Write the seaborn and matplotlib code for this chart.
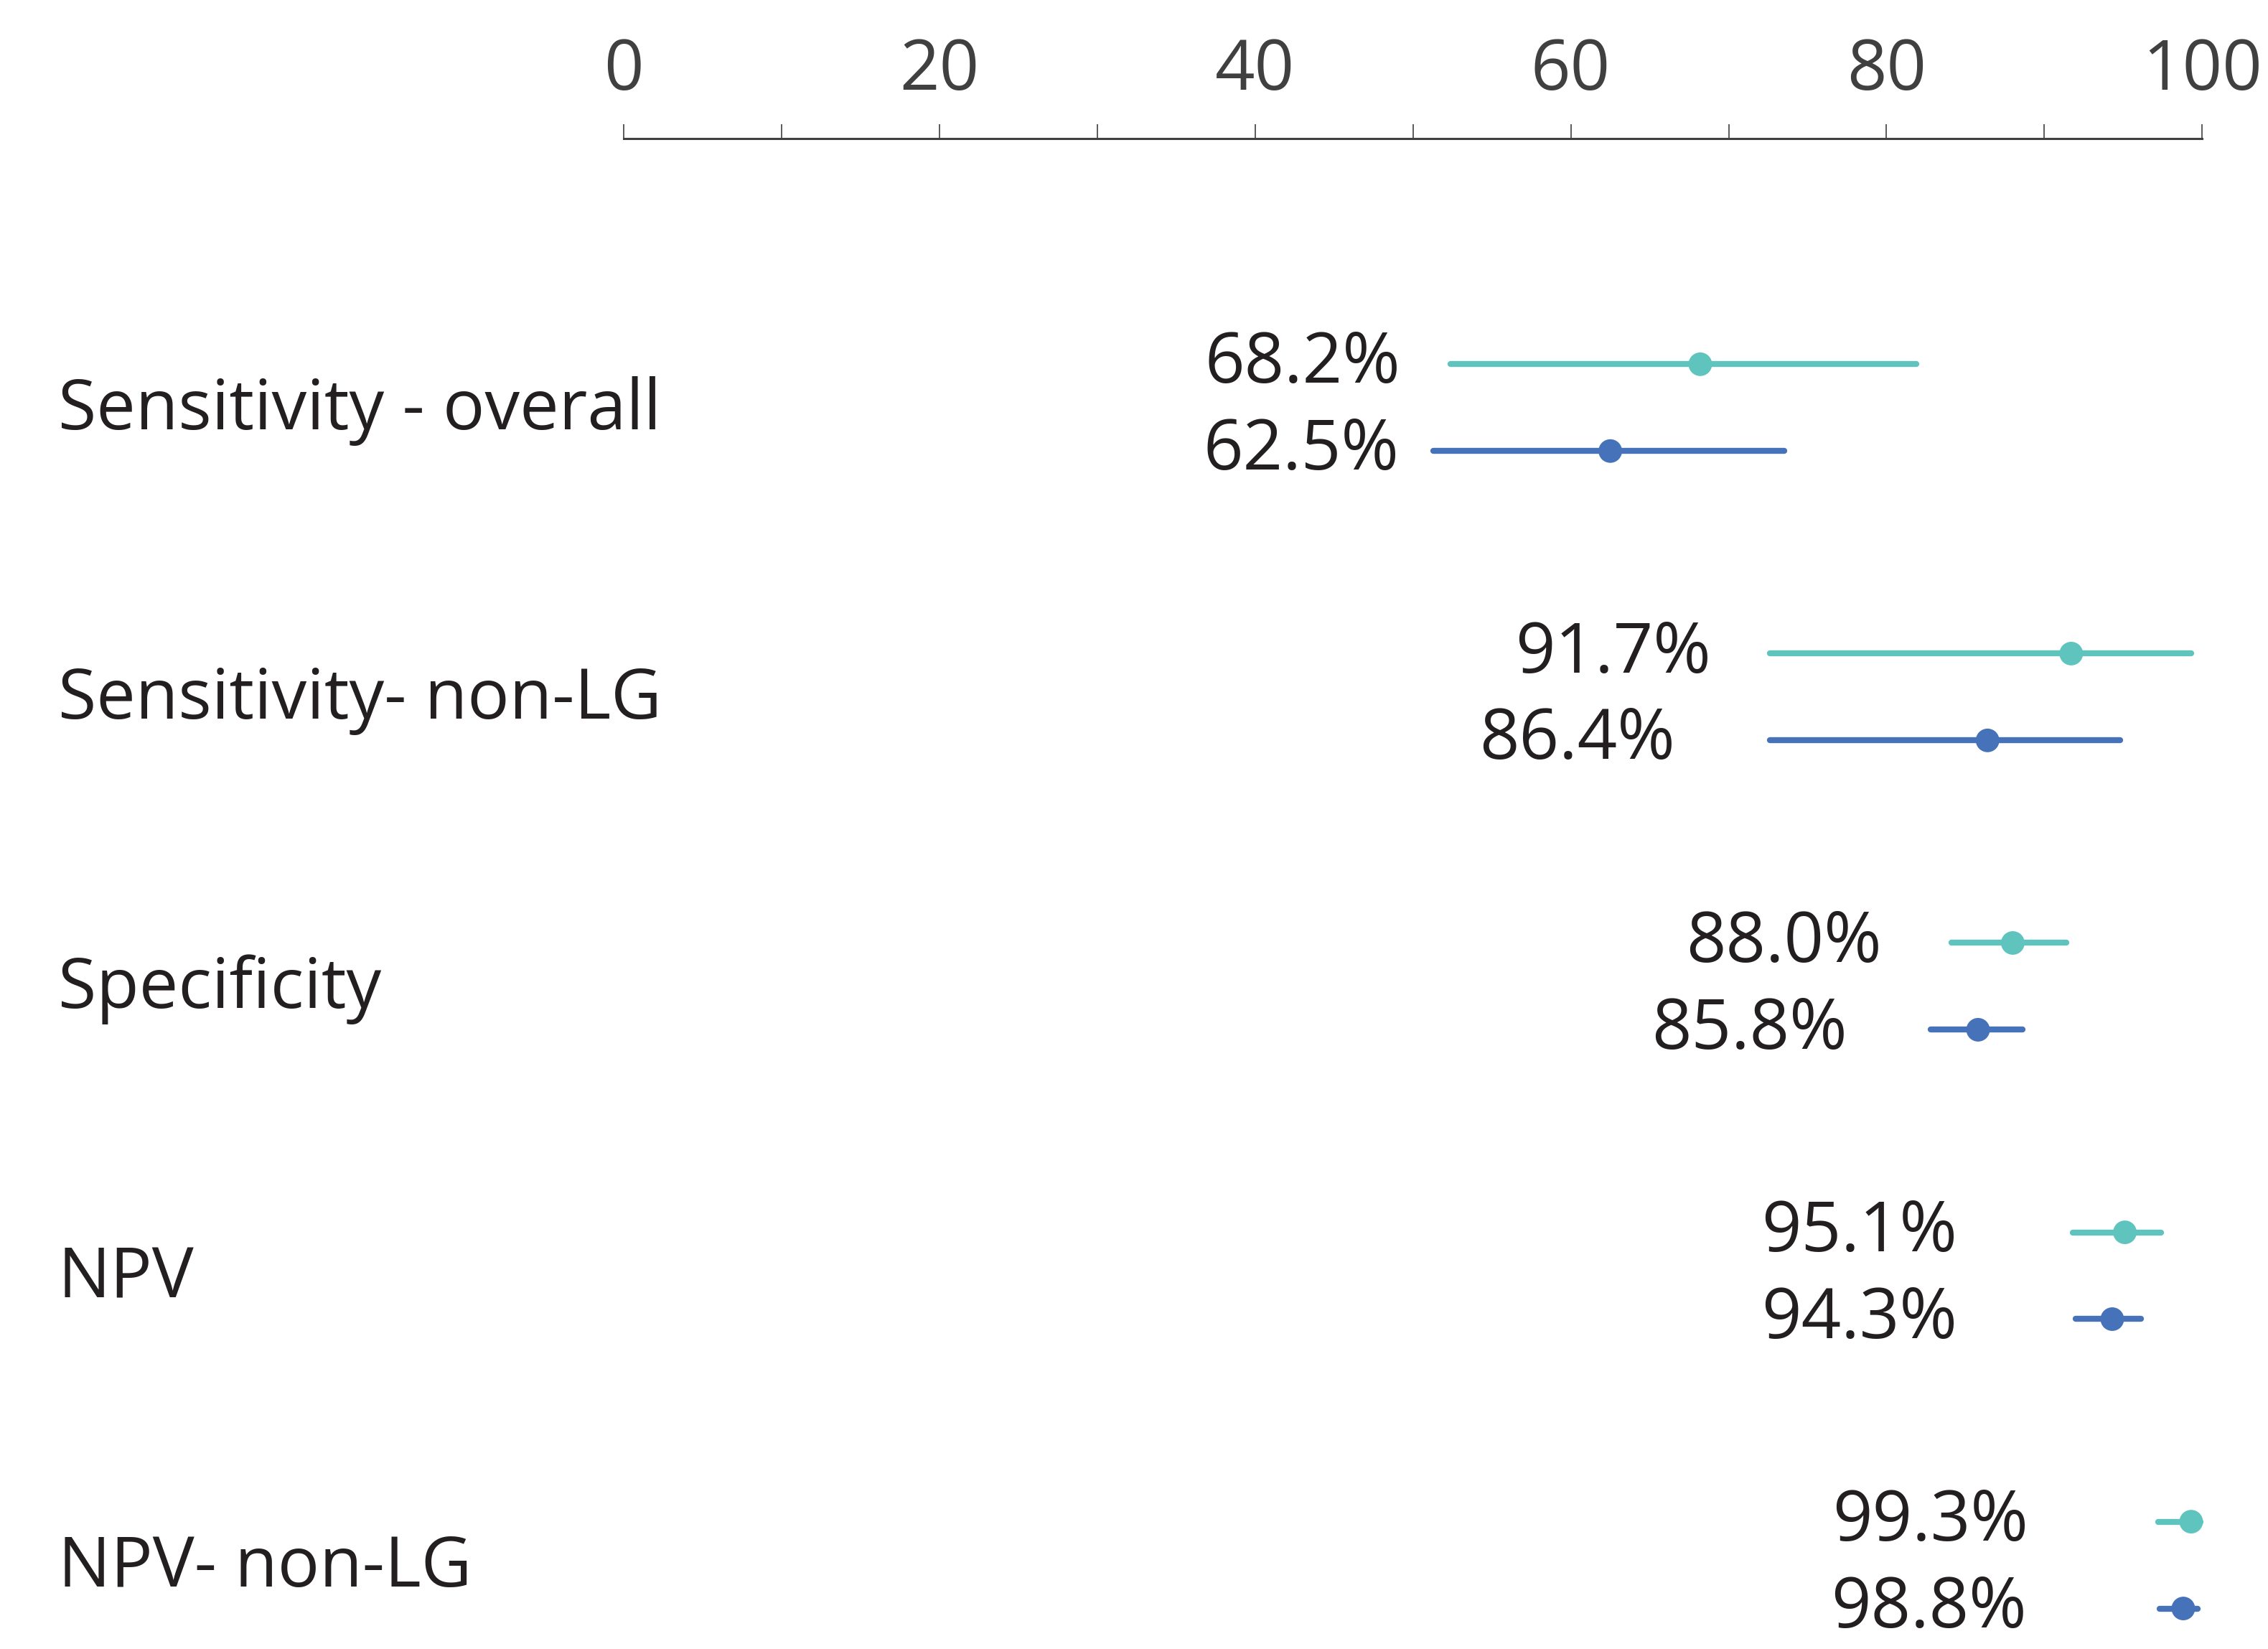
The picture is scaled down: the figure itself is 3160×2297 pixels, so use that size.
import matplotlib
matplotlib.use("Agg")
import matplotlib.pyplot as plt
import matplotlib.transforms as mtransforms
import seaborn as sns
import pandas as pd

# ---------------- data ----------------
categories = ["Sensitivity - overall", "Sensitivity- non-LG", "Specificity", "NPV", "NPV- non-LG"]
series_names = ["Series 1", "Series 2"]

s1_est = [68.2, 91.7, 88.0, 95.1, 99.3]
s1_lo = [52.4, 72.6, 84.1, 91.8, 97.2]
s1_hi = [81.9, 99.3, 91.4, 97.4, 99.9]
s1_labels = ["68.2%", "91.7%", "88.0%", "95.1%", "99.3%"]

s2_est = [62.5, 86.4, 85.8, 94.3, 98.8]
s2_lo = [51.3, 72.6, 82.8, 92.0, 97.3]
s2_hi = [73.5, 94.8, 88.6, 96.1, 99.7]
s2_labels = ["62.5%", "86.4%", "85.8%", "94.3%", "98.8%"]

xticks_major = [0, 20, 40, 60, 80, 100]
xticks_minor = [10, 30, 50, 70, 90]

# ---------------- layout / style ----------------
colors = {"Series 1": "#60C4BE", "Series 2": "#4672B9"}
row_offset = {"Series 1": -0.15, "Series 2": 0.15}
label_gap = {"Series 1": [3.2, 3.7, 4.4, 7.3, 8.2], "Series 2": [2.2, 6.0, 5.3, 7.5, 8.4]}
text_color = "#231F20"
axis_color = "#404040"
FS = 35

rows = []
for name, est, lo, hi, labs in [("Series 1", s1_est, s1_lo, s1_hi, s1_labels),
                                 ("Series 2", s2_est, s2_lo, s2_hi, s2_labels)]:
    for i, cat in enumerate(categories):
        rows.append(dict(category=cat, series=name, est=est[i], lo=lo[i], hi=hi[i],
                         label=labs[i], gap=label_gap[name][i],
                         ypos=i + row_offset[name]))
df = pd.DataFrame(rows)

sns.set_theme(style="white")
plt.rcParams["font.family"] = ["Open Sans", "DejaVu Sans"]

fig = plt.figure(figsize=(15.8, 11.485), dpi=200)
ax = fig.add_axes([0.275, 0.0, 0.696, 0.916])

# CI lines
for name, sub in df.groupby("series"):
    lc = ax.hlines(sub["ypos"], sub["lo"], sub["hi"], colors=colors[name], lw=3.0, zorder=2)
    lc.set_capstyle("round")
    lc.set_clip_on(False)

# point estimates
sns.scatterplot(data=df, x="est", y="ypos", hue="series", palette=colors, s=140,
                linewidth=0, legend=False, zorder=3, ax=ax, clip_on=False)

ax.set_xlim(0, 100)
ax.set_ylim(4.29, -0.93)

# value labels
val_off = mtransforms.ScaledTranslation(0, -9.4 / 72, fig.dpi_scale_trans)
for _, r in df.iterrows():
    ax.text(r["lo"] - r["gap"], r["ypos"], r["label"], ha="right", va="baseline",
            fontsize=FS, color=text_color, transform=ax.transData + val_off, clip_on=False)

# category labels
cat_trans = mtransforms.blended_transform_factory(fig.transFigure, ax.transData)
cat_off = mtransforms.ScaledTranslation(0, -10.8 / 72, fig.dpi_scale_trans)
for i, cat in enumerate(categories):
    ax.text(81 / 3160, i, cat, ha="left", va="baseline", fontsize=FS, color=text_color,
            transform=cat_trans + cat_off)

# axes styling
for side in ["left", "right", "bottom"]:
    ax.spines[side].set_visible(False)
ax.spines["top"].set_color(axis_color)
ax.spines["top"].set_linewidth(1.1)
ax.xaxis.tick_top()
ax.set_xticks(xticks_major)
ax.set_xticks(xticks_minor, minor=True)
ax.set_xticklabels([str(t) for t in xticks_major])
ax.tick_params(axis="x", which="both", top=True, bottom=False, direction="out",
               length=7.2, width=0.6, color=axis_color)
ax.tick_params(axis="x", which="major", labeltop=True, labelbottom=False, pad=9,
               labelsize=FS, labelcolor=axis_color)
ax.set_yticks([])
ax.set_xlabel("")
ax.set_ylabel("")
ax.grid(False)

fig.savefig("out.png", dpi=200)
